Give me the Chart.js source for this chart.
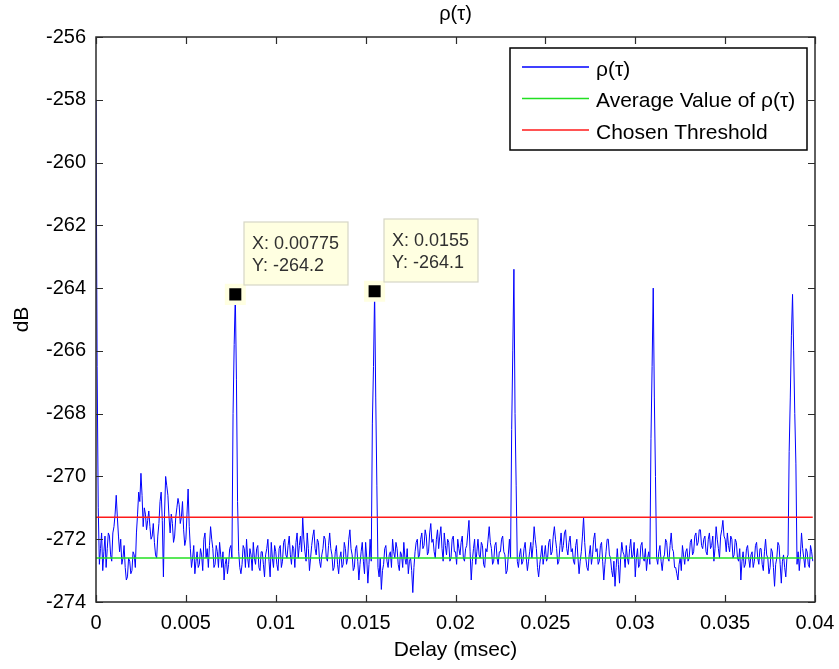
<!DOCTYPE html>
<html>
<head>
<meta charset="utf-8">
<title>ρ(τ)</title>
<script src="https://cdn.jsdelivr.net/npm/chart.js@4.4.0/dist/chart.umd.min.js"></script>
<style>
  html, body { margin: 0; padding: 0; background: #fff; }
  #wrap { width: 839px; height: 669px; }
</style>
</head>
<body>
<div id="wrap"><canvas id="rhoChart" width="839" height="669"></canvas></div>
<script>
'use strict';

// ---------- data ----------
const SAMPLE_STEP = 0.0000625; // msec between samples of rho

// rho(tau) in dB, one value per sample
const rho = [
  -258.0, -266.5, -271.0, -272.8, -272.3, -271.8, -273.0, -272.4, -271.9, -272.9, -272.3, -271.8, -271.9, -272.5, -272.7, -271.8, -271.6, -271.2, -270.6, -271.3, // 0
  -271.9, -272.4, -272.0, -272.8, -272.6, -272.2, -272.9, -273.3, -273.2, -272.6, -272.7, -273.1, -273.0, -272.4, -272.5, -272.9, -271.8, -271.2, -270.5, -270.8, // 20
  -269.9, -270.6, -271.6, -271.0, -271.2, -271.7, -271.4, -271.1, -271.6, -272.0, -271.9, -271.5, -272.1, -272.5, -272.6, -271.9, -271.5, -270.8, -270.5, -271.4, // 40
  -273.2, -271.2, -270.0, -270.3, -270.6, -271.3, -271.8, -271.2, -271.5, -272.1, -271.9, -271.3, -271.0, -270.7, -270.9, -271.5, -271.3, -270.8, -271.7, -272.2, // 60
  -272.0, -271.2, -270.4, -271.6, -272.3, -272.9, -272.6, -272.2, -273.1, -272.7, -272.4, -272.9, -272.8, -272.3, -272.5, -273.0, -272.0, -271.8, -272.6, -272.3, // 80
  -272.9, -272.2, -271.6, -272.0, -272.3, -272.9, -272.8, -272.2, -272.4, -272.9, -272.1, -272.5, -272.9, -272.4, -273.3, -272.8, -272.6, -273.1, -272.8, -272.3, // 100
  -272.2, -272.6, -268.0, -265.8, -264.2, -266.9, -270.8, -272.4, -272.9, -273.1, -272.8, -272.2, -272.3, -272.9, -272.0, -272.6, -272.9, -272.3, -272.5, -273.0, // 120
  -272.1, -272.6, -272.8, -272.3, -272.2, -272.9, -273.0, -272.4, -272.4, -272.8, -273.2, -272.5, -272.3, -272.0, -272.7, -273.2, -272.1, -272.6, -272.9, -272.2, // 140
  -272.4, -272.8, -273.0, -272.3, -272.2, -272.9, -272.7, -272.1, -272.0, -272.5, -272.6, -272.2, -271.9, -272.5, -272.8, -272.2, -272.3, -272.9, -272.1, -271.8, // 160
  -272.6, -272.2, -271.9, -272.4, -271.3, -272.0, -272.4, -272.7, -271.8, -272.3, -273.0, -272.6, -272.2, -271.9, -271.7, -272.3, -272.5, -272.0, -272.1, -272.7, // 180
  -272.9, -272.5, -272.3, -271.9, -272.0, -272.6, -272.7, -272.2, -271.8, -272.3, -272.5, -273.0, -272.9, -272.4, -272.2, -272.8, -273.1, -272.6, -272.4, -272.9, // 200
  -272.8, -272.1, -272.3, -272.8, -272.6, -272.0, -271.7, -272.3, -272.5, -273.0, -272.9, -272.3, -272.2, -272.7, -273.3, -272.8, -272.4, -272.1, -272.7, -273.1, // 220
  -272.1, -272.6, -273.4, -272.8, -272.0, -272.7, -268.3, -266.5, -264.1, -267.5, -270.3, -272.9, -273.2, -272.6, -273.6, -273.0, -272.8, -272.3, -272.2, -272.7, // 240
  -272.9, -272.5, -272.4, -272.9, -272.0, -272.4, -272.6, -272.1, -272.3, -272.8, -273.0, -272.4, -272.5, -272.9, -272.1, -272.6, -272.8, -272.3, -273.1, -272.7, // 260
  -272.6, -273.0, -273.7, -272.9, -272.4, -272.1, -272.0, -272.6, -272.5, -272.0, -271.8, -272.3, -272.2, -271.7, -271.9, -272.5, -272.4, -271.8, -271.5, -272.1, // 280
  -272.0, -272.4, -272.6, -272.0, -271.7, -272.3, -271.9, -271.6, -272.3, -272.7, -271.8, -272.2, -272.5, -272.0, -272.1, -272.7, -272.6, -272.0, -271.9, -272.4, // 300
  -272.4, -272.8, -272.0, -272.3, -272.5, -272.1, -271.9, -272.6, -272.7, -272.3, -272.2, -271.8, -271.4, -272.4, -273.3, -272.7, -272.3, -272.0, -272.8, -272.4, // 320
  -272.0, -272.5, -272.6, -272.1, -272.2, -272.8, -272.9, -272.3, -272.4, -272.0, -271.6, -272.1, -272.3, -272.8, -272.7, -272.2, -272.1, -272.6, -272.8, -272.4, // 340
  -272.4, -272.0, -271.9, -272.4, -272.5, -273.1, -273.0, -272.5, -272.0, -272.6, -268.5, -266.0, -263.4, -268.0, -270.3, -272.7, -272.9, -272.5, -272.3, -272.8, // 360
  -272.7, -272.3, -272.1, -272.6, -273.0, -272.7, -272.4, -272.1, -272.6, -272.2, -271.6, -272.0, -272.3, -272.9, -273.2, -272.8, -272.5, -272.2, -272.8, -272.5, // 380
  -272.2, -272.7, -272.6, -272.1, -272.0, -272.5, -272.4, -271.9, -271.6, -272.0, -272.3, -272.8, -272.7, -272.2, -271.8, -272.4, -272.2, -271.8, -271.7, -272.3, // 400
  -272.5, -272.1, -271.9, -272.4, -272.3, -272.7, -272.8, -272.2, -272.0, -272.6, -273.1, -272.7, -272.4, -271.9, -271.3, -272.1, -272.6, -272.9, -273.0, -272.5, // 420
  -272.2, -272.8, -272.5, -272.0, -271.8, -272.4, -272.3, -272.8, -272.7, -272.2, -272.1, -272.7, -273.3, -272.8, -272.4, -272.0, -272.0, -272.5, -272.6, -273.0, // 440
  -273.2, -272.7, -273.5, -272.9, -272.3, -272.8, -273.4, -272.6, -272.1, -272.4, -272.5, -272.9, -272.2, -272.6, -272.8, -272.3, -272.0, -272.6, -272.5, -272.1, // 460
  -273.2, -272.6, -272.3, -272.9, -272.8, -272.2, -272.1, -272.6, -272.7, -272.3, -273.0, -272.6, -272.4, -272.8, -268.8, -266.5, -264.0, -267.5, -270.0, -272.6, // 480
  -272.8, -272.4, -272.2, -272.7, -273.0, -272.6, -272.5, -272.0, -272.1, -272.6, -272.7, -272.2, -271.8, -272.3, -272.4, -272.9, -272.9, -273.1, -273.3, -272.8, // 500
  -272.6, -273.0, -272.2, -272.5, -272.8, -272.4, -272.3, -272.7, -272.6, -272.1, -272.0, -272.5, -272.4, -271.9, -271.8, -272.2, -272.1, -271.7, -271.7, -272.2, // 520
  -272.3, -272.0, -271.9, -272.4, -272.5, -272.0, -271.8, -272.3, -272.2, -271.9, -272.7, -272.3, -271.6, -272.0, -272.3, -272.6, -271.9, -271.7, -271.4, -271.9, // 540
  -272.0, -272.4, -271.8, -272.2, -272.4, -271.9, -272.0, -272.6, -272.5, -272.0, -272.1, -272.6, -272.7, -272.3, -273.3, -272.7, -272.4, -272.9, -272.8, -272.3, // 560
  -272.2, -272.6, -272.9, -272.5, -272.4, -272.9, -272.7, -272.2, -272.1, -272.6, -272.8, -272.3, -272.3, -272.8, -273.0, -272.4, -272.0, -272.5, -272.6, -273.1, // 580
  -272.9, -272.3, -272.4, -272.9, -273.5, -272.8, -272.6, -272.1, -272.2, -272.8, -273.4, -272.7, -272.5, -272.9, -273.2, -272.6, -272.5, -269.2, -267.5, -265.5, // 600
  -264.2, -266.0, -268.0, -269.6, -272.8, -272.4, -273.0, -272.5, -271.8, -272.3, -272.6, -272.9, -272.3, -272.4, -272.8, -272.9, -272.2, -272.4, -272.7          // 620
];

const averageValue = -272.6;   // green line
const thresholdValue = -271.3; // red line

const tipDelays = [0.00775, 0.0155];
const tipValues = [-264.2, -264.1];

const xTicks = [0, 0.005, 0.01, 0.015, 0.02, 0.025, 0.03, 0.035, 0.04];
const yTicks = [-274, -272, -270, -268, -266, -264, -262, -260, -258, -256];

// ---------- style ----------
const FONT = '"Liberation Sans", Arial, Helvetica, sans-serif';
const AXIS_COLOR = '#2b2b2b';
const TICK_LEN = 7;
const TIP_FILL = '#ffffe1';

const delays = rho.map((_, i) => i * SAMPLE_STEP);
const lastDelay = delays[delays.length - 1];

// ---------- drawing helpers ----------
function drawFrame(chart) {
  const { ctx, chartArea: a, scales } = chart;
  ctx.save();
  ctx.strokeStyle = AXIS_COLOR;
  ctx.lineWidth = 1.5;
  ctx.strokeRect(a.left, a.top, a.right - a.left, a.bottom - a.top);
  ctx.lineWidth = 1.2;
  ctx.beginPath();
  for (const v of xTicks) {
    const px = Math.round(scales.x.getPixelForValue(v)) + 0.5;
    ctx.moveTo(px, a.bottom); ctx.lineTo(px, a.bottom - TICK_LEN);
    ctx.moveTo(px, a.top); ctx.lineTo(px, a.top + TICK_LEN);
  }
  for (const v of yTicks) {
    const py = Math.round(scales.y.getPixelForValue(v)) + 0.5;
    ctx.moveTo(a.left, py); ctx.lineTo(a.left + TICK_LEN, py);
    ctx.moveTo(a.right, py); ctx.lineTo(a.right - TICK_LEN, py);
  }
  ctx.stroke();
  ctx.restore();
}

function drawTitles(chart) {
  const { ctx, chartArea: a } = chart;
  const cx = (a.left + a.right) / 2;
  ctx.save();
  ctx.fillStyle = '#000';
  ctx.textAlign = 'center';
  ctx.textBaseline = 'middle';
  ctx.font = `20px ${FONT}`;
  ctx.fillText('ρ(τ)', cx, 14);
  ctx.font = `21px ${FONT}`;
  ctx.fillText('Delay (msec)', cx, a.bottom + 48);
  ctx.translate(22, (a.top + a.bottom) / 2);
  ctx.rotate(-Math.PI / 2);
  ctx.fillText('dB', 0, 0);
  ctx.restore();
}

function drawLegend(chart) {
  const { ctx, chartArea: a } = chart;
  const items = chart.data.datasets.filter((d) => d.label);
  ctx.save();
  ctx.font = `21px ${FONT}`;
  const textW = Math.max(...items.map((d) => ctx.measureText(d.label).width));
  const w = Math.round(86 + textW + 12);
  const h = 102;
  const left = a.right - 8 - w;
  const top = a.top + 11;
  ctx.fillStyle = '#fff';
  ctx.fillRect(left, top, w, h);
  ctx.strokeStyle = '#000';
  ctx.lineWidth = 1.5;
  ctx.strokeRect(left, top, w, h);
  items.forEach((d, k) => {
    const y = top + 19 + k * 31.5;
    ctx.strokeStyle = d.borderColor;
    ctx.lineWidth = 1.5;
    ctx.beginPath();
    ctx.moveTo(left + 12, y);
    ctx.lineTo(left + 79, y);
    ctx.stroke();
    ctx.fillStyle = '#000';
    ctx.textAlign = 'left';
    ctx.textBaseline = 'middle';
    ctx.fillText(d.label, left + 86, y + 3);
  });
  ctx.restore();
}

function drawDataTips(chart) {
  const { ctx, scales } = chart;
  ctx.save();
  ctx.font = `18px ${FONT}`;
  tipDelays.forEach((d, k) => {
    const px = scales.x.getPixelForValue(d);
    const py = scales.y.getPixelForValue(tipValues[k]);
    const lines = ['X: ' + d, 'Y: ' + tipValues[k].toFixed(1)];
    const w = Math.round(Math.max(...lines.map((t) => ctx.measureText(t).width)) + 17);
    const left = Math.round(px + 9);
    const top = Math.round(py - 72);
    ctx.fillStyle = TIP_FILL;
    ctx.fillRect(left, top, w, 63);
    ctx.strokeStyle = '#d6d6c6';
    ctx.lineWidth = 1.2;
    ctx.strokeRect(left, top, w, 63);
    ctx.fillStyle = '#303030';
    ctx.textAlign = 'left';
    ctx.textBaseline = 'alphabetic';
    ctx.fillText(lines[0], left + 8, top + 27);
    ctx.fillText(lines[1], left + 8, top + 49);
  });
  ctx.restore();
}

const decorPlugin = {
  id: 'matlabDecor',
  afterDraw(chart) {
    drawFrame(chart);
    drawTitles(chart);
    drawLegend(chart);
    drawDataTips(chart);
  },
};

// ---------- chart ----------
const cfg = {
  type: 'line',
  data: {
    datasets: [
      {
        label: '',
        data: tipDelays.map((d, k) => ({ x: d, y: tipValues[k] })),
        showLine: false,
        pointStyle: 'rect',
        pointRadius: 11.7,
        backgroundColor: '#000',
        borderColor: TIP_FILL,
        borderWidth: 4.5,
        order: 0,
      },
      {
        label: 'ρ(τ)',
        data: delays.map((x, i) => ({ x, y: rho[i] })),
        borderColor: '#0000ff',
        borderWidth: 1,
        pointRadius: 0,
        tension: 0,
        order: 3,
      },
      {
        label: 'Average Value of ρ(τ)',
        data: [{ x: 0, y: averageValue }, { x: lastDelay, y: averageValue }],
        borderColor: '#22e022',
        borderWidth: 1.6,
        pointRadius: 0,
        order: 2,
      },
      {
        label: 'Chosen Threshold',
        data: [{ x: 0, y: thresholdValue }, { x: lastDelay, y: thresholdValue }],
        borderColor: '#ff1a1a',
        borderWidth: 1.6,
        pointRadius: 0,
        order: 1,
      },
    ],
  },
  options: {
    responsive: false,
    animation: false,
    devicePixelRatio: 1,
    events: [],
    layout: { padding: { top: 37, right: 24, bottom: 0, left: 0 } },
    plugins: {
      legend: { display: false },
      tooltip: { enabled: false },
      title: { display: false },
    },
    scales: {
      x: {
        type: 'linear',
        min: 0,
        max: 0.04,
        grid: { display: false },
        border: { display: false },
        afterBuildTicks: (s) => { s.ticks = xTicks.map((v) => ({ value: v })); },
        afterFit: (s) => { s.height = 67; s.paddingLeft = 0; s.paddingRight = 0; },
        ticks: {
          color: '#000',
          font: { family: FONT, size: 20 },
          padding: 1,
          maxRotation: 0,
          autoSkip: false,
          callback: (v) => String(+v.toFixed(4)),
        },
      },
      y: {
        type: 'linear',
        min: -274,
        max: -256,
        grid: { display: false },
        border: { display: false },
        afterBuildTicks: (s) => { s.ticks = yTicks.map((v) => ({ value: v })); },
        afterFit: (s) => { s.width = 96; s.paddingTop = 0; s.paddingBottom = 0; },
        ticks: {
          color: '#000',
          font: { family: FONT, size: 20 },
          padding: 2,
          autoSkip: false,
          callback: (v) => String(v),
        },
      },
    },
  },
  plugins: [decorPlugin],
};

new Chart(document.getElementById('rhoChart'), cfg);
</script>
</body>
</html>
